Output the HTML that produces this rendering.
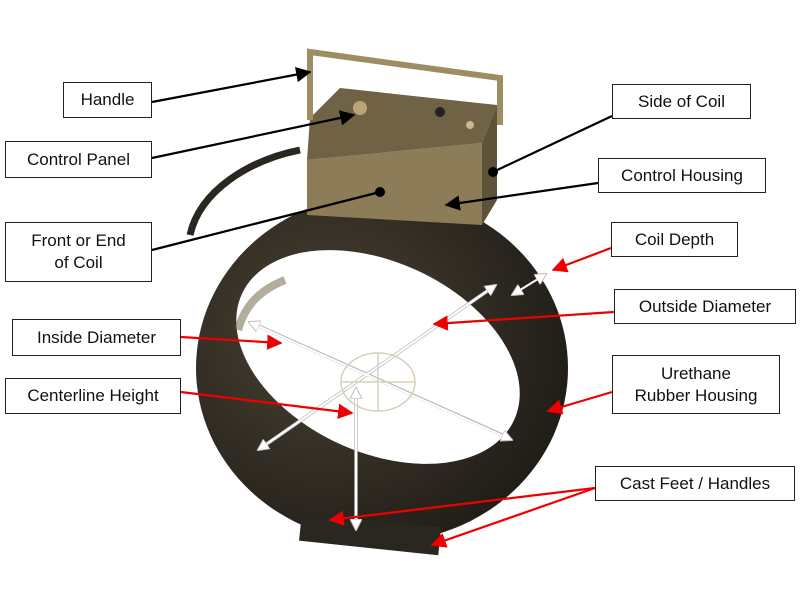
<!DOCTYPE html>
<html><head><meta charset="utf-8"><style>
html,body{margin:0;padding:0;background:#fff;width:800px;height:600px;overflow:hidden}
.b{position:absolute;border:1.5px solid #222;background:#fff;font-family:"Liberation Sans",sans-serif;font-size:17px;color:#111;display:flex;align-items:center;justify-content:center;text-align:center;line-height:22px;box-sizing:border-box}
</style></head><body>
<svg width="800" height="600" style="position:absolute;left:0;top:0">
<defs>
<marker id="ak" viewBox="0 0 10 10" refX="9" refY="5" markerWidth="7" markerHeight="7" orient="auto-start-reverse"><path d="M0,0L10,5L0,10z" fill="#000"/></marker>
<marker id="ar" viewBox="0 0 10 10" refX="9" refY="5" markerWidth="7" markerHeight="7" orient="auto-start-reverse"><path d="M0,0L10,5L0,10z" fill="#e00"/></marker>
<marker id="aw" viewBox="0 0 10 10" refX="9" refY="5" markerWidth="6" markerHeight="6" orient="auto-start-reverse"><path d="M0,0L10,5L0,10z" fill="#fff" stroke="#bbb" stroke-width="0.8"/></marker>
<radialGradient id="rg" cx="0.35" cy="0.4" r="0.7"><stop offset="0" stop-color="#4a4233"/><stop offset="1" stop-color="#1f1c17"/></radialGradient>
</defs>
<path d="M300,150 C250,160 200,190 190,235" stroke="#2a2620" stroke-width="7" fill="none"/>
<ellipse cx="382" cy="368" rx="186" ry="174" fill="url(#rg)"/>
<rect x="300" y="520" width="140" height="28" fill="#2a2620" transform="rotate(6 370 535)"/>
<ellipse cx="378" cy="357" rx="150" ry="95" transform="rotate(25 378 357)" fill="#fff"/>
<path d="M238,330 C245,305 260,290 285,280" stroke="#6a5a3a" stroke-width="8" fill="none" opacity="0.5"/>
<polygon points="307,160 482,143 482,225 307,215" fill="#8c7c57"/>
<polygon points="310,118 340,88 497,105 482,143 307,160" fill="#6f6245"/>
<polygon points="482,143 497,105 497,200 482,225" fill="#5e5239"/>
<path d="M310,120 L310,52 L500,78 L500,125" stroke="#9e8d62" stroke-width="6" fill="none"/>
<circle cx="360" cy="108" r="7" fill="#b9a77a"/>
<circle cx="440" cy="112" r="5" fill="#222"/>
<circle cx="470" cy="125" r="4" fill="#c8b88a"/>
<g stroke="#bbb" stroke-width="3.5" fill="none">
<line x1="252" y1="323" x2="509" y2="438"/>
<line x1="261" y1="448" x2="493" y2="287"/>
<line x1="356" y1="391" x2="356" y2="527"/>
</g>
<g stroke="#fff" stroke-width="2" fill="none">
<line x1="249" y1="322" x2="512" y2="440" marker-start="url(#aw)" marker-end="url(#aw)"/>
<line x1="258" y1="450" x2="496" y2="285" marker-start="url(#aw)" marker-end="url(#aw)"/>
<line x1="356" y1="388" x2="356" y2="530" marker-start="url(#aw)" marker-end="url(#aw)"/>
<line x1="512" y1="295" x2="546" y2="274" marker-start="url(#aw)" marker-end="url(#aw)"/>
</g>
<g stroke="#d8d0bc" stroke-width="1.5" fill="none">
<ellipse cx="378" cy="382" rx="37" ry="29"/><line x1="378" y1="353" x2="378" y2="411"/><line x1="341" y1="382" x2="415" y2="382"/>
</g>
<g stroke="#000" stroke-width="2.2" fill="none">
<line x1="152" y1="102" x2="310" y2="72" marker-end="url(#ak)"/>
<line x1="152" y1="158" x2="354" y2="115" marker-end="url(#ak)"/>
<line x1="152" y1="250" x2="380" y2="192"/>
<line x1="612" y1="116" x2="493" y2="172"/>
<line x1="598" y1="183" x2="446" y2="205" marker-end="url(#ak)"/>
</g>
<circle cx="380" cy="192" r="5" fill="#000"/><circle cx="493" cy="172" r="5" fill="#000"/>
<g stroke="#e00" stroke-width="2.2" fill="none">
<line x1="181" y1="337" x2="281" y2="343" marker-end="url(#ar)"/>
<line x1="181" y1="392" x2="352" y2="413" marker-end="url(#ar)"/>
<line x1="611" y1="248" x2="553" y2="270" marker-end="url(#ar)"/>
<line x1="614" y1="312" x2="434" y2="324" marker-end="url(#ar)"/>
<line x1="612" y1="392" x2="548" y2="411" marker-end="url(#ar)"/>
<line x1="595" y1="488" x2="330" y2="520" marker-end="url(#ar)"/>
<line x1="595" y1="488" x2="432" y2="545" marker-end="url(#ar)"/>
</g>
</svg>
<div class="b" style="left:63px;top:82px;width:89px;height:36px">Handle</div>
<div class="b" style="left:5px;top:141px;width:147px;height:37px">Control Panel</div>
<div class="b" style="left:5px;top:222px;width:147px;height:60px">Front or End<br>of Coil</div>
<div class="b" style="left:12px;top:319px;width:169px;height:37px">Inside Diameter</div>
<div class="b" style="left:5px;top:378px;width:176px;height:36px">Centerline Height</div>
<div class="b" style="left:612px;top:84px;width:139px;height:35px">Side of Coil</div>
<div class="b" style="left:598px;top:158px;width:168px;height:35px">Control Housing</div>
<div class="b" style="left:611px;top:222px;width:127px;height:35px">Coil Depth</div>
<div class="b" style="left:614px;top:289px;width:182px;height:35px">Outside Diameter</div>
<div class="b" style="left:612px;top:355px;width:168px;height:59px">Urethane<br>Rubber Housing</div>
<div class="b" style="left:595px;top:466px;width:200px;height:35px">Cast Feet / Handles</div>
</body></html>
